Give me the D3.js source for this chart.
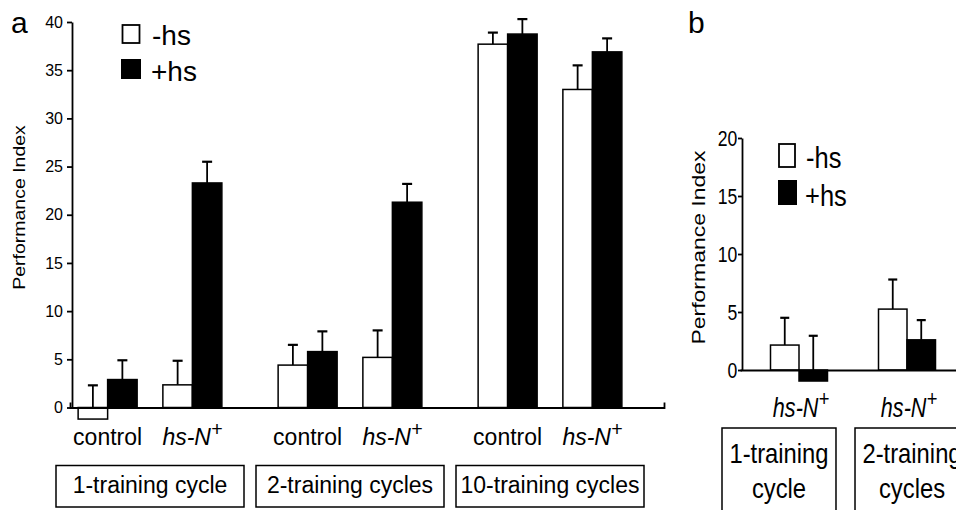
<!DOCTYPE html>
<html><head><meta charset="utf-8">
<script src="https://cdn.jsdelivr.net/npm/d3@7"></script>
<style>
body{margin:0;background:#fff}
svg{display:block}
text{font-family:"Liberation Sans",Arial,Helvetica,sans-serif;fill:#000}
</style>
</head><body>
<svg id="chart" width="956" height="510"></svg>
<script>
// ---------- Panel a data ----------
const trainingA = ["1-training cycle","2-training cycles","10-training cycles"];
const genotypesA = ["control","hs-N+"];
const seriesNames = ["-hs","+hs"];
const catTrainingA = ["1-training cycle","1-training cycle","2-training cycles","2-training cycles","10-training cycles","10-training cycles"];
const catGenotypeA = ["control","hs-N+","control","hs-N+","control","hs-N+"];
const minusHsA    = [-1.2, 2.35, 4.4, 5.2, 37.7, 33.0];
const minusHsErrA = [3.5, 2.5, 2.1, 2.8, 1.2, 2.5];
const plusHsA     = [2.9, 23.3, 5.8, 21.3, 38.75, 36.9];
const plusHsErrA  = [2.0, 2.2, 2.1, 1.9, 1.55, 1.4];
const ticksA = [0,5,10,15,20,25,30,35,40];

// ---------- Panel b data ----------
const trainingB = ["1-training cycle","2-training cycles"];
const boxLinesB = [["1-training","cycle"],["2-training","cycles"]];
const genotypeB = ["hs-N+","hs-N+"];
const minusHsB    = [2.15, 5.25];
const minusHsErrB = [2.35, 2.55];
const plusHsB     = [-0.95, 2.6];
const plusHsErrB  = [3.9, 1.7];
const ticksB = [0,5,10,15,20];

const svg = d3.select("#chart");

function genoLabel(sel){
  sel.each(function(d){
    const t = d3.select(this);
    if (d === "hs-N+") {
      t.append("tspan").style("font-style","italic").text("hs-N");
      t.append("tspan").style("font-style","italic").attr("font-size","0.85em").attr("dy","-0.45em").text("+");
    } else {
      t.text(d);
    }
  });
}

// ================= PANEL A =================
(function(){
  const g = svg.append("g");
  const y = d3.scaleLinear().domain([0,40]).range([407.5,22]);
  const xOuter = d3.scaleBand().domain(trainingA).range([50,650]);
  const xGeno = d3.scalePoint().domain(genotypesA).range([0,xOuter.bandwidth()]).padding(0.68);
  const barW = 29.5;
  const xSer = d3.scaleBand().domain(seriesNames).range([-barW,barW]);
  const axisX = 72;

  const rows = [];
  catTrainingA.forEach((t,i)=>{
    const c = xOuter(t)+xGeno(catGenotypeA[i]);
    rows.push({s:"-hs",c,v:minusHsA[i],e:minusHsErrA[i]});
    rows.push({s:"+hs",c,v:plusHsA[i],e:plusHsErrA[i]});
  });

  const eb = g.append("g").attr("stroke","#000").attr("stroke-width",1.8);
  rows.forEach(r=>{
    const cx = r.c + xSer(r.s) + xSer.bandwidth()/2;
    eb.append("line").attr("x1",cx).attr("x2",cx).attr("y1",y(r.v)).attr("y2",y(r.v+r.e));
    eb.append("line").attr("x1",cx-5).attr("x2",cx+5).attr("y1",y(r.v+r.e)).attr("y2",y(r.v+r.e)).attr("stroke-width",2.2);
  });
  g.append("g").selectAll("rect").data(rows).join("rect")
    .attr("x",r=>r.c+xSer(r.s))
    .attr("width",xSer.bandwidth())
    .attr("y",r=>y(Math.max(0,r.v)))
    .attr("height",r=>Math.abs(y(r.v)-y(0)))
    .attr("fill",r=>r.s==="-hs"?"#fff":"#000")
    .attr("stroke","#000").attr("stroke-width",1.5);

  const ya = g.append("g").attr("transform",`translate(${axisX},0)`)
    .call(d3.axisLeft(y).tickValues(ticksA).tickSize(5).tickSizeOuter(0).tickPadding(4));
  ya.selectAll("path,line").attr("stroke","#000").attr("stroke-width",1.8);
  ya.selectAll("text").attr("font-size",16).attr("font-family",'"Liberation Sans",Arial,sans-serif');

  const xb = d3.scaleLinear().range([axisX-2,664]);
  const xa = g.append("g").attr("transform",`translate(0,${y(0)})`)
    .call(d3.axisBottom(xb).tickValues([]).tickSizeOuter(-5));
  xa.select("path").attr("stroke","#000").attr("stroke-width",1.8);

  g.append("text").attr("transform","translate(25,207.5) rotate(-90) scale(1,0.84)")
    .attr("text-anchor","middle").attr("font-size",19.5).text("Performance Index");

  g.append("g").selectAll("text").data(catGenotypeA).join("text")
    .attr("x",(d,i)=>xOuter(catTrainingA[i])+xGeno(d))
    .attr("y",445).attr("text-anchor","middle").attr("font-size",23)
    .call(genoLabel);

  const boxW = 188;
  const bx = g.append("g").selectAll("g").data(trainingA).join("g")
    .attr("transform",d=>`translate(${xOuter(d)+xOuter.bandwidth()/2},0)`);
  bx.append("rect").attr("x",-boxW/2).attr("y",465.5).attr("width",boxW).attr("height",41.5)
    .attr("fill","none").attr("stroke","#000").attr("stroke-width",1.5);
  bx.append("text").attr("y",493).attr("text-anchor","middle").attr("font-size",23).text(d=>d);

  const lg = g.append("g");
  lg.append("rect").attr("x",122.5).attr("y",25).attr("width",17).attr("height",18)
    .attr("fill","#fff").attr("stroke","#000").attr("stroke-width",1.8);
  lg.append("rect").attr("x",121).attr("y",59).attr("width",20).attr("height",20).attr("fill","#000");
  lg.append("text").attr("x",152).attr("y",45).attr("font-size",28).text(seriesNames[0]);
  lg.append("text").attr("x",151).attr("y",81).attr("font-size",28).text(seriesNames[1]);

  g.append("text").attr("x",11).attr("y",33).attr("font-size",30).text("a");
})();

// ================= PANEL B =================
(function(){
  const g = svg.append("g");
  const sx = 0.8;
  const y = d3.scaleLinear().domain([0,20]).range([370,138]);
  const x = d3.scaleBand().domain(trainingB).range([745,961]);
  const xBox = d3.scaleBand().domain(trainingB).range([722,969]).paddingInner(0.143);
  const barW = 28.5;
  const xSer = d3.scaleBand().domain(seriesNames).range([-barW,barW]);
  const axisX = 742;

  const rows = [];
  trainingB.forEach((t,i)=>{
    const c = x(t)+x.bandwidth()/2;
    rows.push({s:"-hs",c,v:minusHsB[i],e:minusHsErrB[i]});
    rows.push({s:"+hs",c,v:plusHsB[i],e:plusHsErrB[i]});
  });
  const eb = g.append("g").attr("stroke","#000").attr("stroke-width",1.8);
  rows.forEach(r=>{
    const cx = r.c + xSer(r.s) + xSer.bandwidth()/2;
    eb.append("line").attr("x1",cx).attr("x2",cx).attr("y1",y(r.v)).attr("y2",y(r.v+r.e));
    eb.append("line").attr("x1",cx-4.5).attr("x2",cx+4.5).attr("y1",y(r.v+r.e)).attr("y2",y(r.v+r.e)).attr("stroke-width",2.2);
  });
  g.append("g").selectAll("rect").data(rows).join("rect")
    .attr("x",r=>r.c+xSer(r.s))
    .attr("width",xSer.bandwidth())
    .attr("y",r=>y(Math.max(0,r.v)))
    .attr("height",r=>Math.abs(y(r.v)-y(0)))
    .attr("fill",r=>r.s==="-hs"?"#fff":"#000")
    .attr("stroke","#000").attr("stroke-width",1.5);

  const ya = g.append("g").attr("transform",`translate(${axisX},0)`)
    .call(d3.axisLeft(y).tickValues(ticksB).tickSize(4).tickSizeOuter(0).tickPadding(2));
  ya.selectAll("path,line").attr("stroke","#000").attr("stroke-width",1.8);
  ya.selectAll("text").attr("font-size",22).attr("font-family",'"Liberation Sans",Arial,sans-serif')
    .attr("transform",`scale(${sx},1)`);

  const xb = d3.scaleLinear().range([axisX-2,960]);
  const xa = g.append("g").attr("transform",`translate(0,${y(0)})`)
    .call(d3.axisBottom(xb).tickValues([]).tickSizeOuter(0));
  xa.select("path").attr("stroke","#000").attr("stroke-width",1.8);

  g.append("text").attr("transform",`translate(705,247.5) rotate(-90) scale(1,${sx})`)
    .attr("text-anchor","middle").attr("font-size",23).text("Performance Index");

  g.append("g").selectAll("text").data(genotypeB).join("text")
    .attr("transform",(d,i)=>`translate(${x(trainingB[i])+x.bandwidth()/2+2},416.5) scale(${sx},1)`)
    .attr("text-anchor","middle").attr("font-size",27)
    .call(genoLabel);

  const bx = g.append("g").selectAll("g").data(trainingB).join("g");
  bx.append("rect").attr("x",d=>xBox(d)).attr("y",428).attr("width",xBox.bandwidth()).attr("height",90)
    .attr("fill","none").attr("stroke","#000").attr("stroke-width",1.5);
  bx.each(function(d,i){
    const cx = xBox(d)+xBox.bandwidth()/2;
    d3.select(this).selectAll("text.l").data(boxLinesB[i]).join("text")
      .attr("transform",(s,j)=>`translate(${cx},${j?498:463}) scale(0.85,1)`)
      .attr("text-anchor","middle").attr("font-size",28).text(s=>s);
  });

  const lg = g.append("g");
  lg.append("rect").attr("x",779).attr("y",144).attr("width",16).attr("height",23)
    .attr("fill","#fff").attr("stroke","#000").attr("stroke-width",1.8);
  lg.append("rect").attr("x",778).attr("y",180).attr("width",19).attr("height",25).attr("fill","#000");
  lg.append("text").attr("transform","translate(806,168) scale(0.85,1)").attr("font-size",30).text(seriesNames[0]);
  lg.append("text").attr("transform","translate(805,206) scale(0.85,1)").attr("font-size",30).text(seriesNames[1]);

  g.append("text").attr("x",688).attr("y",33).attr("font-size",30).text("b");
})();
</script>
</body></html>
